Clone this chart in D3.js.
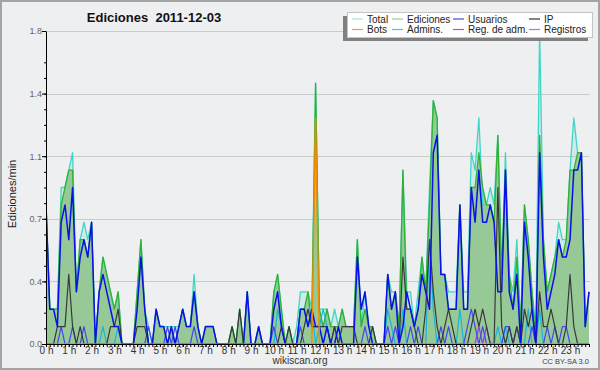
<!DOCTYPE html>
<html>
<head>
<meta charset="utf-8">
<script src="https://d3js.org/d3.v7.min.js"></script>
<style>
  body { margin: 0; background: #fff; }
  text { font-family: "Liberation Sans", Arial, sans-serif; }
</style>
</head>
<body>
<svg id="chart" width="600" height="370"></svg>
<script>
// edits per 10-minute slot (144 slots, 0 h .. 24 h), one row = 2 hours
const total = [
  8,2,2,2,9,9,10,11,3,6,7,6,
  7,0,3,5,4,3,2,3,0,0,0,0,
  3,6,2,1,0,2,1,1,1,1,1,1,
  2,1,1,4,1,0,1,1,1,0,0,0,
  0,1,0,2,0,3,0,0,1,0,0,0,
  3,4,2,0,1,0,1,3,3,3,2,15,
  2,2,2,1,2,1,2,1,1,1,6,1,
  3,1,1,0,0,0,4,3,3,1,10,3,
  3,1,3,5,3,9,14,13,4,4,3,3,
  3,8,3,3,11,10,13,8,8,9,8,12,
  4,11,4,3,6,1,8,6,3,1,18,6,
  3,4,5,7,6,6,10,13,11,11,1,3
];
const ediciones = [
  8,2,2,2,8,9,10,10,3,6,6,5,
  7,0,3,5,4,3,2,3,0,0,0,0,
  3,6,2,0,0,2,1,1,0,1,0,1,
  2,1,1,3,1,0,1,1,1,0,0,0,
  0,1,0,2,0,3,0,0,1,0,0,0,
  3,4,2,0,1,0,0,2,2,3,1,15,
  2,1,2,1,1,1,2,1,1,1,6,1,
  2,1,1,0,0,0,4,2,3,1,10,2,
  2,1,2,5,3,8,14,13,4,4,2,2,
  2,8,2,2,9,9,11,9,8,8,7,12,
  4,10,4,2,5,1,8,6,3,0,12,6,
  3,4,5,6,5,6,10,10,11,11,1,3
];
const usuarios = [
  8,2,2,1,7,8,6,9,3,5,6,5,
  7,0,3,4,3,2,1,1,0,0,0,0,
  2,5,2,0,0,2,1,1,0,1,0,1,
  2,1,1,3,1,0,1,1,1,0,0,0,
  0,0,0,0,0,3,0,0,1,0,0,0,
  2,3,1,0,0,0,0,2,2,1,2,1,
  1,0,1,0,0,1,0,0,0,0,5,2,
  3,1,0,0,0,0,4,2,3,0,1,3,
  2,1,2,4,3,2,11,12,4,4,2,2,
  2,8,2,2,9,7,10,7,7,8,7,3,
  3,10,3,2,4,0,7,5,2,0,11,5,
  2,3,4,6,5,5,6,10,10,11,1,3
];
const ip = [
  0,0,0,1,1,1,4,1,0,1,0,0,
  0,0,0,0,0,1,1,2,0,0,0,0,
  1,1,1,0,0,0,0,0,0,0,0,0,
  0,0,0,0,0,0,0,0,0,0,0,0,
  0,1,0,2,0,0,0,0,0,0,0,0,
  0,0,1,0,1,0,0,0,1,2,1,1,
  1,1,1,0,1,0,1,1,1,1,0,0,
  0,0,1,0,0,0,0,0,0,0,5,2,
  2,1,0,0,2,6,3,1,0,1,2,1,
  0,0,0,0,1,2,1,2,1,0,0,9,
  1,0,1,0,1,0,2,1,2,0,3,1,
  1,2,1,0,0,1,4,1,0,0,0,0
];
const bots = [
  0,0,0,0,0,0,0,0,0,0,0,0,
  0,0,0,0,0,0,0,0,0,0,0,0,
  0,0,0,0,0,0,0,0,0,0,0,0,
  0,0,0,0,0,0,0,0,0,0,0,0,
  0,0,0,0,0,0,0,0,0,0,0,0,
  0,0,0,0,0,0,0,0,0,0,0,13,
  0,0,0,0,0,0,0,0,0,0,0,0,
  0,0,0,0,0,0,0,0,0,0,0,0,
  0,0,0,0,0,0,0,0,0,0,0,0,
  0,0,0,0,0,0,0,0,0,0,0,0,
  0,0,0,0,0,0,0,0,0,0,0,0,
  0,0,0,0,0,0,0,0,0,0,0,0
];
const admins = [
  0,0,0,0,0,0,0,0,0,0,0,0,
  0,0,0,1,0,0,0,1,0,0,0,0,
  0,0,0,0,0,0,0,0,0,0,0,0,
  0,0,0,0,0,0,0,0,0,0,0,0,
  0,0,0,0,0,0,0,0,0,0,0,0,
  0,2,1,0,0,0,0,2,2,1,2,0,
  1,2,1,0,0,0,0,0,0,0,0,0,
  0,0,0,0,0,0,2,1,0,0,2,0,
  0,0,0,0,0,6,2,0,0,0,0,0,
  0,2,0,0,0,0,0,0,0,0,0,1,
  0,1,0,0,0,0,0,2,0,0,2,0,
  0,0,0,0,0,0,0,0,0,0,0,0
];
const regAdm = [
  0,0,0,0,0,0,0,0,0,0,0,0,
  0,0,0,0,0,0,0,0,0,0,0,0,
  0,0,0,0,0,0,0,0,0,0,0,0,
  0,0,0,0,0,0,0,0,0,0,0,0,
  0,0,0,0,0,0,0,0,0,0,0,0,
  0,0,0,0,0,0,0,0,0,0,0,0,
  0,0,0,0,0,0,0,0,0,0,0,0,
  0,0,0,0,0,0,0,0,0,0,0,0,
  0,0,0,0,0,0,0,0,0,0,0,0,
  0,0,0,0,0,0,1,0,1,0,0,0,
  0,0,0,0,0,0,0,0,0,0,0,0,
  0,0,0,0,0,0,0,0,0,0,0,0
];
const registros = [
  0,0,0,0,1,0,0,1,0,0,1,0,
  0,0,0,0,0,0,0,0,0,0,0,0,
  0,0,0,1,0,0,0,0,1,0,1,0,
  0,0,0,1,0,0,0,0,0,0,0,0,
  0,0,0,0,0,0,0,0,0,0,0,0,
  1,0,0,0,0,0,0,1,0,0,0,0,
  0,0,0,0,1,0,0,0,0,0,0,0,
  1,0,0,0,0,0,1,0,1,0,0,0,
  1,0,1,0,0,0,0,0,1,0,1,0,
  0,0,0,1,2,1,0,1,0,0,0,0,
  0,1,1,0,1,0,0,0,1,0,0,0,
  1,0,1,0,1,1,0,0,0,0,0,0
];

const hourLabels = d3.range(24).map(h => h + " h");
const yTicks = [0, 0.36, 0.72, 1.08, 1.44, 1.8];

const svg = d3.select("#chart");

// background + frame
svg.append("rect").attr("x", 1).attr("y", 1).attr("width", 598).attr("height", 368)
  .attr("fill", "#eeeff0").attr("stroke", "#a4a4a4").attr("stroke-width", 2);

const x = d3.scaleLinear().domain([0, 143]).range([46, 589]);
const y = d3.scaleLinear().domain([0, 1.8]).range([344, 31]);
const perMin = v => v / 10;

// grid
svg.append("g").selectAll("line").data(yTicks.slice(1)).join("line")
  .attr("x1", 46).attr("x2", 590)
  .attr("y1", d => Math.round(y(d)) + 0.5).attr("y2", d => Math.round(y(d)) + 0.5)
  .attr("stroke", "#cacaca");

svg.append("defs").append("clipPath").attr("id", "plot")
  .append("rect").attr("x", 46).attr("y", 0).attr("width", 546).attr("height", 343.5);

const plot = svg.append("g").attr("clip-path", "url(#plot)");

const line = d3.line().x((d, i) => x(i)).y(d => y(perMin(d)));
const area = d3.area().x((d, i) => x(i)).y0(y(0)).y1(d => y(perMin(d)));

plot.append("path").datum(total).attr("d", area)
  .attr("fill", "#3fd6c6").attr("fill-opacity", 0.16);
plot.append("path").datum(ediciones).attr("d", area)
  .attr("fill", "#97c997");

const lines = [
  { data: total, color: "#3fd6c6", w: 1.3 },
  { data: ediciones, color: "#33b033", w: 1.3 },
  { data: regAdm, color: "#b030e0", w: 1.2 },
  { data: admins, color: "#18b4dc", w: 1.2 },
  { data: registros, color: "#4646ee", w: 1.2 },
  { data: ip, color: "#383838", w: 1.2 },
  { data: usuarios, color: "#0a10e8", w: 1.5 },
  { data: bots, color: "#f08c00", w: 1.5 }
];
lines.forEach(s => {
  plot.append("path").datum(s.data).attr("d", line)
    .attr("fill", "none").attr("stroke", s.color)
    .attr("stroke-width", s.w).attr("stroke-linejoin", "round");
});

// axes
const yMinor = svg.append("g").attr("transform", "translate(46,0)")
  .call(d3.axisLeft(y).tickValues(d3.range(0, 19).map(k => k * 0.09)).tickSize(2).tickFormat(""));
const yAxis = svg.append("g").attr("transform", "translate(46,0)")
  .call(d3.axisLeft(y).tickValues(yTicks).tickSize(4).tickSizeOuter(0).tickPadding(0)
    .tickFormat(d3.format(".1f")));
yAxis.selectAll("text").attr("font-size", 9).attr("fill", "#666");

const xMinor = svg.append("g").attr("transform", "translate(0,344)")
  .call(d3.axisBottom(x).tickValues(d3.range(0, 144)).tickSize(3).tickSizeOuter(0).tickFormat(""));
const xAxis = svg.append("g").attr("transform", "translate(0,344)")
  .call(d3.axisBottom(x).tickValues(d3.range(0, 144, 6)).tickSize(3).tickSizeOuter(0).tickPadding(0)
    .tickFormat((d, i) => hourLabels[i]));
xAxis.selectAll("text").attr("font-size", 10).attr("fill", "#333");
[yMinor, yAxis, xMinor, xAxis].forEach(g => {
  g.selectAll("path,line").attr("stroke", "#000");
  g.attr("font-family", null);
});
yMinor.select(".domain").remove();
xMinor.select(".domain").remove();

// titles
svg.append("text").attr("x", 154).attr("y", 22).attr("text-anchor", "middle")
  .attr("font-size", 13).attr("font-weight", "bold").attr("fill", "#111")
  .text("Ediciones  2011-12-03").style("white-space", "pre");
svg.append("text").attr("transform", "translate(16,194) rotate(-90)")
  .attr("text-anchor", "middle").attr("font-size", 11).attr("fill", "#222")
  .text("Ediciones/min");
svg.append("text").attr("x", 300).attr("y", 364).attr("text-anchor", "middle")
  .attr("font-size", 10).attr("fill", "#333").text("wikiscan.org");
svg.append("text").attr("x", 589).attr("y", 364).attr("text-anchor", "end")
  .attr("font-size", 7.5).attr("fill", "#444").text("CC BY-SA 3.0");

// legend
const legendNames = ["Total", "Ediciones", "Usuarios", "IP", "Bots", "Admins.", "Reg. de adm.", "Registros"];
const legendColors = ["#a8e6e0", "#8fd48f", "#4a4ae0", "#333333", "#f0a040", "#44c8e0", "#cc44dd", "#8888ee"];
const legendCols = [352, 392, 453, 529];
const lg = svg.append("g");
lg.append("rect").attr("x", 343).attr("y", 16).attr("width", 245).attr("height", 25).attr("fill", "#808080");
lg.append("rect").attr("x", 347.5).attr("y", 12.5).attr("width", 245).attr("height", 25)
  .attr("fill", "#fff").attr("stroke", "#c4c4c4");
legendNames.forEach((name, k) => {
  const cx = legendCols[k % 4], cy = k < 4 ? 19 : 29.5;
  lg.append("line").attr("x1", cx).attr("x2", cx + 11).attr("y1", cy).attr("y2", cy)
    .attr("stroke", legendColors[k]).attr("stroke-width", 1.2);
  lg.append("text").attr("x", cx + 15).attr("y", cy + 3.5)
    .attr("font-size", 10).attr("fill", "#222").text(name);
});
</script>
</body>
</html>
